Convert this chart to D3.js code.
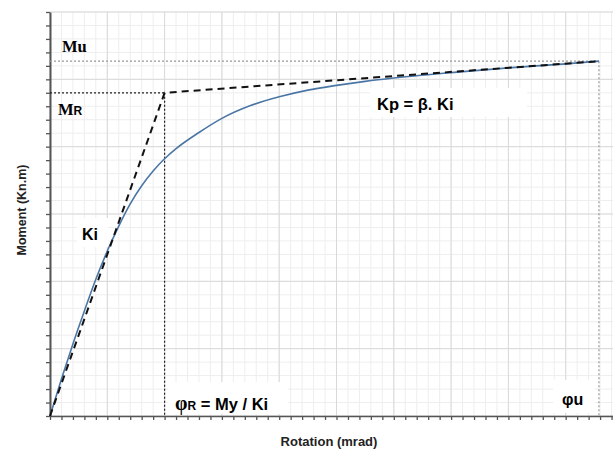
<!DOCTYPE html>
<html>
<head>
<meta charset="utf-8">
<script src="https://cdn.jsdelivr.net/npm/d3@7"></script>
<style>
  body { margin: 0; background: #fff; }
  svg { display: block; }
</style>
</head>
<body>
<script>
// moment-rotation curve (rotation in grid units, moment in grid units)
const rotation = [0, 0.2, 0.4, 0.6, 0.8, 1.0, 1.2, 1.4, 1.6, 1.8, 2.0, 2.2, 2.6, 3.0, 3.5, 4.0, 4.5, 5.0, 5.5, 6.0, 7.0, 8.0, 9.0, 9.58]
const moment = [0, 0.55, 1.07, 1.56, 2.03, 2.45, 2.82, 3.15, 3.42, 3.64, 3.82, 3.97, 4.21, 4.42, 4.61, 4.74, 4.84, 4.91, 4.97, 5.02, 5.10, 5.17, 5.23, 5.27]

// bilinear idealisation
const bilinearRot = [0, 2.0, 9.58]
const bilinearMom = [0, 4.80, 5.27]

const phiR = 2.0
const phiU = 9.58
const mR = 4.80
const mU = 5.27

const xMajor = d3.range(0, 10.01, 1)
const xMinor = d3.range(0, 10.01, 0.2)
const yMajor = d3.range(0, 6.01, 1)
const yMinor = d3.range(0, 6.01, 0.2)

const w = 613
const h = 450
const plotLeft = 50
const plotTop = 12
const plotBottom = 416

const svg = d3.select('body')
    .append('svg')
    .attr('width', w)
    .attr('height', h)
    .style('font-family', 'Liberation Sans, Arial, sans-serif')

const x = d3.scaleLinear().domain([0, 10]).range([plotLeft, 623])
const y = d3.scaleLinear().domain([0, 6]).range([plotBottom, plotTop])

// grid
svg.append('g')
    .selectAll('line')
    .data(xMinor)
    .enter()
    .append('line')
    .attr('x1', d => x(d)).attr('x2', d => x(d))
    .attr('y1', plotTop).attr('y2', plotBottom)
    .attr('stroke', '#eeeeee')
svg.append('g')
    .selectAll('line')
    .data(yMinor)
    .enter()
    .append('line')
    .attr('x1', plotLeft).attr('x2', w)
    .attr('y1', d => y(d)).attr('y2', d => y(d))
    .attr('stroke', '#eeeeee')
svg.append('g')
    .selectAll('line')
    .data(xMajor)
    .enter()
    .append('line')
    .attr('x1', d => x(d)).attr('x2', d => x(d))
    .attr('y1', plotTop).attr('y2', plotBottom)
    .attr('stroke', '#d9d9d9')
svg.append('g')
    .selectAll('line')
    .data(yMajor)
    .enter()
    .append('line')
    .attr('x1', plotLeft).attr('x2', w)
    .attr('y1', d => y(d)).attr('y2', d => y(d))
    .attr('stroke', '#d9d9d9')

// axes
const xAxis = svg.append('g')
    .attr('transform', `translate(0,${plotBottom})`)
    .call(d3.axisBottom(x).tickValues(xMinor).tickSize(4).tickFormat('').tickSizeOuter(0))
const yAxis = svg.append('g')
    .attr('transform', `translate(${plotLeft},0)`)
    .call(d3.axisLeft(y).tickValues(yMinor).tickSize(4).tickFormat('').tickSizeOuter(0))
xAxis.selectAll('path, line').attr('stroke', '#555').attr('stroke-width', 1.3)
yAxis.selectAll('path, line').attr('stroke', '#555').attr('stroke-width', 1.3)
yAxis.select('path').attr('stroke-width', 2)

// reference lines
const refLine = (x1, y1, x2, y2, color) => svg.append('line')
    .attr('x1', x(x1)).attr('y1', y(y1))
    .attr('x2', x(x2)).attr('y2', y(y2))
    .attr('stroke', color)
    .attr('stroke-width', 1.2)
    .attr('stroke-dasharray', '2,2')
refLine(0, mU, phiU, mU, '#999')
refLine(phiU, mU, phiU, 0, '#999')
refLine(0, mR, phiR, mR, '#222')
refLine(phiR, mR, phiR, 0, '#222')

// curve
svg.append('path')
    .datum(rotation.map((r, i) => [r, moment[i]]))
    .attr('fill', 'none')
    .attr('stroke', '#4a76a6')
    .attr('stroke-width', 1.6)
    .attr('d', d3.line().x(d => x(d[0])).y(d => y(d[1])).curve(d3.curveMonotoneX))

// bilinear dashed
svg.append('path')
    .datum(bilinearRot.map((r, i) => [r, bilinearMom[i]]))
    .attr('fill', 'none')
    .attr('stroke', '#111')
    .attr('stroke-width', 2)
    .attr('stroke-dasharray', '7,5')
    .attr('d', d3.line().x(d => x(d[0])).y(d => y(d[1])))

// labels with white boxes
const box = (x0, y0, bw, bh) => svg.append('rect')
    .attr('x', x0).attr('y', y0).attr('width', bw).attr('height', bh)
    .attr('fill', '#fff')

box(77, 218, 31, 29)
svg.append('text').attr('x', 82).attr('y', 240)
    .attr('font-size', 16).attr('font-weight', 'bold').text('Ki')

box(370, 88, 157, 29)
svg.append('text').attr('x', 377).attr('y', 110)
    .attr('font-size', 16.5).attr('font-weight', 'bold').text('Kp = β. Ki')

box(168, 382, 120, 32)
const tR = svg.append('text').attr('x', 175).attr('y', 410)
    .attr('font-size', 16.5).attr('font-weight', 'bold')
tR.append('tspan').attr('font-family', 'Liberation Serif, serif').attr('font-size', 20).text('φ')
tR.append('tspan').attr('font-size', 12).text('R')
tR.append('tspan').text(' = My / Ki')

box(553, 380, 42, 33)
svg.append('text').attr('x', 562).attr('y', 405)
    .attr('font-size', 16).attr('font-weight', 'bold')
    .text('φu')

svg.append('text').attr('x', 62).attr('y', 52)
    .attr('font-family', 'Liberation Serif, serif')
    .attr('font-size', 16.5).attr('font-weight', 'bold').text('Mu')
const tM = svg.append('text').attr('x', 58).attr('y', 115)
    .attr('font-family', 'Liberation Serif, serif')
    .attr('font-size', 16.5).attr('font-weight', 'bold')
tM.append('tspan').text('M')
tM.append('tspan').attr('font-family', 'Liberation Sans, Arial, sans-serif').attr('font-size', 12).text('R')

// axis titles
svg.append('text')
    .attr('x', 329).attr('y', 446)
    .attr('text-anchor', 'middle')
    .attr('font-size', 13).attr('font-weight', 'bold')
    .attr('fill', '#222')
    .text('Rotation (mrad)')
svg.append('text')
    .attr('transform', 'translate(26,210) rotate(-90)')
    .attr('text-anchor', 'middle')
    .attr('font-size', 12.5).attr('font-weight', 'bold')
    .attr('fill', '#222')
    .text('Moment (Kn.m)')
</script>
</body>
</html>
